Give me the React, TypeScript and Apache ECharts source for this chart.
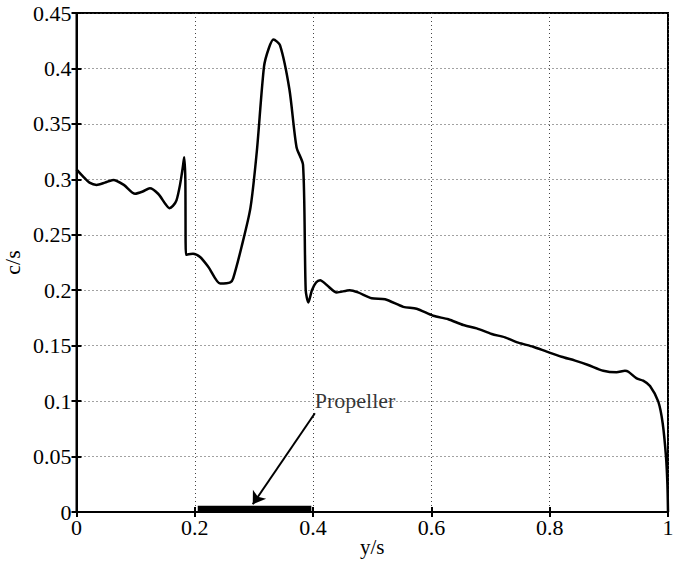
import React, { useEffect, useRef } from "react";
import * as echarts from "echarts";

const xTicks = [0, 0.2, 0.4, 0.6, 0.8, 1];
const yTicks = [0, 0.05, 0.1, 0.15, 0.2, 0.25, 0.3, 0.35, 0.4, 0.45];

const ys = [
  0.0, 0.012, 0.022, 0.034, 0.048, 0.062, 0.08, 0.099, 0.112, 0.124, 0.138, 0.15, 0.157,
  0.163, 0.169, 0.175, 0.18, 0.182, 0.184, 0.185, 0.197, 0.209, 0.223, 0.243, 0.26, 0.265,
  0.279, 0.294, 0.305, 0.317, 0.325, 0.333, 0.344, 0.36, 0.372, 0.383, 0.3875, 0.392,
  0.398, 0.405, 0.412, 0.423, 0.44, 0.462, 0.476, 0.499, 0.5216, 0.5525, 0.575, 0.603,
  0.6286, 0.654, 0.6766, 0.702, 0.7244, 0.747, 0.772, 0.795, 0.82, 0.843, 0.865, 0.8906,
  0.913, 0.9273, 0.933, 0.947, 0.958, 0.9696, 0.9836, 0.991, 0.9966, 0.999, 1.0,
];
const cs = [
  0.309, 0.302, 0.297, 0.295, 0.297, 0.2994, 0.295, 0.287, 0.289, 0.292, 0.287, 0.278, 0.274,
  0.276, 0.281, 0.295, 0.312, 0.32, 0.3, 0.232, 0.233, 0.23, 0.221, 0.206, 0.207, 0.211,
  0.239, 0.274, 0.326, 0.4016, 0.418, 0.426, 0.421, 0.381, 0.329, 0.313, 0.2, 0.189,
  0.2, 0.207, 0.209, 0.2047, 0.198, 0.2, 0.198, 0.1927, 0.1918, 0.185, 0.1833, 0.177,
  0.1738, 0.1686, 0.1656, 0.1605, 0.1575, 0.1527, 0.149, 0.1446, 0.14, 0.1365, 0.1326, 0.1274,
  0.126, 0.1274, 0.1265, 0.1205, 0.1184, 0.1136, 0.0995, 0.08, 0.0499, 0.025, 0.0,
];

const propellerSpan = [0.205, 0.397];
const propellerLevel = 0.003;
const arrowStart = [0.403, 0.089];
const arrowEnd = [0.298, 0.007];
const labelPos = [0.402, 0.101];
const labelText = "Propeller";

const FONT = "Liberation Serif, Times New Roman, serif";
const FS = 22;

export default function App() {
  const ref = useRef<HTMLDivElement>(null);
  useEffect(() => {
    document.body.style.margin = "0";
    document.body.style.overflow = "hidden";
    const chart = echarts.init(ref.current!, null, { renderer: "svg" });
    const gridLine = { show: true, lineStyle: { color: "#444", width: 1, type: [1, 3] as any } };
    const fmt = (v: number) => String(Math.round(v * 100) / 100);
    chart.setOption({
      animation: false,
      backgroundColor: "#fff",
      grid: {
        left: 76.5, right: 5, top: 13, bottom: 51,
        outerBoundsMode: "none", containLabel: false,
        show: true, borderColor: "#000", borderWidth: 2, backgroundColor: "transparent",
      },
      xAxis: [
        {
          type: "value", min: 0, max: 1, interval: 0.2,
          name: "y/s", nameLocation: "middle", nameGap: 24, nameMoveOverlap: false,
          nameTextStyle: { fontFamily: FONT, fontSize: 21, color: "#000", lineHeight: 21 },
          axisLine: { show: true, lineStyle: { color: "#000", width: 2 } },
          axisTick: { show: true, inside: true, length: 5, lineStyle: { color: "#000", width: 2 } },
          axisLabel: { fontFamily: FONT, fontSize: FS, color: "#000", margin: 4, formatter: fmt },
          splitLine: gridLine,
        },
        {
          type: "value", min: 0, max: 1, interval: 0.2, position: "top",
          axisLine: { show: true, lineStyle: { color: "#000", width: 2 } },
          axisTick: { show: true, inside: true, length: 5, lineStyle: { color: "#000", width: 2 } },
          axisLabel: { show: false },
          splitLine: { show: false },
        },
      ],
      yAxis: [
        {
          type: "value", min: 0, max: 0.45, interval: 0.05,
          name: "c/s", nameLocation: "middle", nameGap: 53, nameRotate: 90, nameMoveOverlap: false,
          nameTextStyle: { fontFamily: FONT, fontSize: FS, color: "#000" },
          axisLine: { show: true, lineStyle: { color: "#000", width: 2 } },
          axisTick: { show: true, inside: true, length: 5, lineStyle: { color: "#000", width: 2 } },
          axisLabel: { fontFamily: FONT, fontSize: FS, color: "#000", margin: 5, formatter: fmt },
          splitLine: gridLine,
        },
        {
          type: "value", min: 0, max: 0.45, interval: 0.05, position: "right",
          axisLine: { show: true, lineStyle: { color: "#000", width: 2 } },
          axisTick: { show: true, inside: true, length: 5, lineStyle: { color: "#000", width: 2 } },
          axisLabel: { show: false },
          splitLine: { show: false },
        },
      ],
      series: [
        {
          type: "line",
          data: ys.map((y, i) => [y, cs[i]]),
          showSymbol: false, symbol: "none", smooth: 0.25,
          lineStyle: { color: "#000", width: 2.5 },
          z: 5,
        },
        {
          type: "line",
          data: propellerSpan.map((x) => [x, propellerLevel]),
          symbol: "none",
          lineStyle: { color: "#000", width: 6, cap: "butt" },
          z: 4,
        },
        {
          type: "lines",
          coordinateSystem: "cartesian2d",
          data: [{ coords: [arrowStart, arrowEnd] }],
          symbol: ["none", "arrow"],
          symbolSize: [0, 12],
          lineStyle: { color: "#000", width: 2, opacity: 1 },
          z: 6,
        },
        {
          type: "scatter",
          data: [labelPos],
          symbolSize: 1,
          itemStyle: { color: "transparent" },
          label: {
            show: true, position: "right", distance: 0, formatter: labelText,
            fontFamily: FONT, fontSize: FS, color: "#000",
          },
          z: 6,
        },
      ],
    });
    return () => chart.dispose();
  }, []);
  return (
    <div
      ref={ref}
      style={{ position: "absolute", left: 0, top: 0, width: 673, height: 563, overflow: "hidden" }}
    />
  );
}
